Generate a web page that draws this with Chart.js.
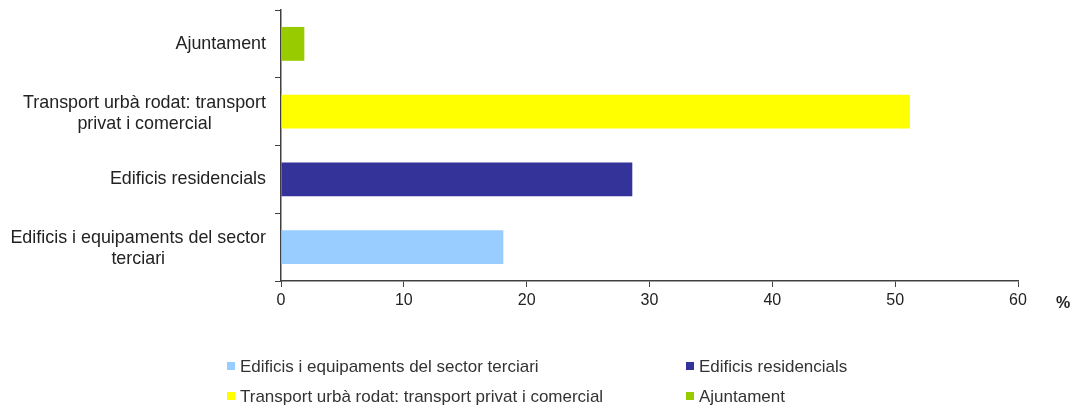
<!DOCTYPE html>
<html>
<head>
<meta charset="utf-8">
<script src="https://cdn.jsdelivr.net/npm/chart.js@4"></script>
<style>
  html, body { margin: 0; padding: 0; background: #fff; }
  #wrap { position: relative; width: 1076px; height: 405px; }
  #legend {
    position: absolute; left: 227px; top: 352px; width: 849px;
    display: flex; flex-wrap: wrap;
    font: 17px "Liberation Sans", Arial, sans-serif; color: #333;
  }
  .item { width: 459px; height: 30px; display: flex; align-items: center; white-space: nowrap; line-height: 20px; }
  .item:nth-child(2n) { width: 380px; }
  .box { width: 8px; height: 8px; margin-right: 5px; flex: none; position: relative; top: -1px; }
</style>
</head>
<body>
<div id="wrap">
  <canvas id="chart" width="1076" height="405"></canvas>
  <div id="legend"></div>
</div>
<script>
// categories, top to bottom
const categories = [
  ['Ajuntament'],
  ['Transport urbà rodat: transport', 'privat i comercial'],
  ['Edificis residencials'],
  ['Edificis i equipaments del sector', 'terciari']
];
// series in legend order
const seriesNames = [
  'Edificis i equipaments del sector terciari',
  'Edificis residencials',
  'Transport urbà rodat: transport privat i comercial',
  'Ajuntament'
];
const seriesValues = [18.1, 28.6, 51.2, 1.9];
const seriesColors = ['#99CCFF', '#333399', '#FFFF00', '#99CC00'];
const xMin = 0, xMax = 60, xStep = 10;

const fontFamily = '"Liberation Sans", Arial, sans-serif';
const axisColor = '#404040';

const datasets = seriesNames.map((name, i) => ({
  label: name,
  data: categories.map(c => (c.join(' ') === name ? seriesValues[i] : null)),
  backgroundColor: seriesColors[i],
  barPercentage: 0.5,
  categoryPercentage: 1
}));

// category labels: block right aligned, lines centred inside the block
const yLabels = {
  id: 'yLabels',
  afterDraw(chart) {
    const y = chart.scales.y;
    const ctx = chart.ctx;
    const lineH = 21;
    ctx.save();
    ctx.font = '17.9px ' + fontFamily;
    ctx.fillStyle = '#222';
    ctx.textAlign = 'center';
    ctx.textBaseline = 'middle';
    categories.forEach((lines, i) => {
      const w = Math.max(...lines.map(l => ctx.measureText(l).width));
      const cx = y.right - 15 - w / 2;
      const cy = y.getPixelForValue(i) + (lines.length > 1 ? 1.5 : 0);
      lines.forEach((l, k) => {
        ctx.fillText(l, cx, cy + (k - (lines.length - 1) / 2) * lineH);
      });
    });
    ctx.font = 'bold 16px ' + fontFamily;
    const x = chart.scales.x;
    ctx.fillText('%', x.right + 45, x.top + 23);
    ctx.restore();
  }
};

const ctx = document.getElementById('chart').getContext('2d');
new Chart(ctx, {
  type: 'bar',
  data: { labels: categories, datasets },
  options: {
    indexAxis: 'y',
    responsive: false,
    animation: false,
    layout: { padding: { top: 10, right: 58, bottom: 94, left: 0 } },
    plugins: { legend: { display: false }, tooltip: { enabled: false } },
    scales: {
      x: {
        min: xMin, max: xMax,
        ticks: { stepSize: xStep, color: '#222', padding: 4, font: { family: fontFamily, size: 16 } },
        grid: { drawOnChartArea: false, drawTicks: true, tickLength: 6, color: axisColor },
        border: { color: axisColor, width: 1.5 },
        afterFit(s) { s.height = 30; }
      },
      y: {
        stacked: true,
        ticks: { display: false },
        grid: { drawOnChartArea: false, drawTicks: true, tickLength: 6, color: axisColor, offset: true },
        border: { color: axisColor, width: 1.5 },
        afterFit(s) { s.width = 281; }
      }
    }
  },
  plugins: [yLabels]
});

const legend = document.getElementById('legend');
seriesNames.forEach((name, i) => {
  const item = document.createElement('div');
  item.className = 'item';
  const box = document.createElement('span');
  box.className = 'box';
  box.style.background = seriesColors[i];
  const txt = document.createElement('span');
  txt.textContent = name;
  item.appendChild(box);
  item.appendChild(txt);
  legend.appendChild(item);
});
</script>
</body>
</html>
